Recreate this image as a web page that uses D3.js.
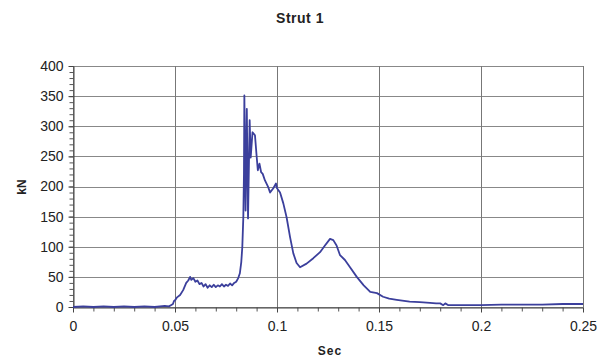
<!DOCTYPE html>
<html>
<head>
<meta charset="utf-8">
<script src="https://cdn.jsdelivr.net/npm/d3@7"></script>
<style>
body { margin: 0; background: #fff; }
text { font-family: "Liberation Sans", Arial, sans-serif; }
</style>
</head>
<body>
<div id="chart"></div>
<script>
// data: time (s) and force (kN)
var times = [0, 0.005, 0.01, 0.015, 0.02, 0.025, 0.03, 0.035, 0.04, 0.045, 0.047, 0.048,
  0.049, 0.0495, 0.05, 0.051, 0.0525, 0.054, 0.0555, 0.0565, 0.0574, 0.058, 0.059, 0.060,
  0.061, 0.062, 0.063, 0.064, 0.065, 0.066, 0.067, 0.068, 0.069, 0.070, 0.071, 0.072,
  0.073, 0.074, 0.075, 0.076, 0.077, 0.078, 0.079, 0.080, 0.081, 0.0818, 0.0825, 0.083,
  0.0835, 0.0838, 0.0840, 0.0846, 0.0852, 0.0858, 0.0866, 0.0871, 0.0880, 0.0892, 0.0900,
  0.0906, 0.0914, 0.0922, 0.093, 0.0941, 0.0957, 0.0966, 0.0982, 0.0995, 0.1, 0.1015,
  0.1031, 0.1047, 0.1064, 0.108, 0.1096, 0.1113, 0.1145, 0.1178, 0.1211, 0.1235, 0.126,
  0.1276, 0.1292, 0.1309, 0.1333, 0.1358, 0.1391, 0.1425, 0.1457, 0.149, 0.152, 0.155,
  0.1587, 0.165, 0.170, 0.175, 0.178, 0.180, 0.1815, 0.1825, 0.184, 0.19, 0.2, 0.21,
  0.22, 0.23, 0.24, 0.25];
var force = [0, 1, 0, 1, 0, 1, 0, 1, 0, 2, 1, 3,
  5, 10, 11, 16, 20, 28, 40, 44, 50, 45, 48, 42,
  44, 38, 40, 34, 38, 32, 36, 33, 37, 33, 36, 34,
  38, 34, 37, 35, 39, 36, 40, 42, 48, 56, 75, 100,
  150, 220, 351, 160, 329, 147, 310, 248, 290, 285, 251,
  227, 238, 224, 221, 210, 199, 190, 197, 205, 197, 190,
  172, 149, 116, 89, 73, 66, 72, 81, 91, 102, 113,
  111, 102, 86, 78, 66, 50, 36, 25, 23, 17, 14,
  12, 9, 8, 7, 6, 6, 3, 6, 3, 3, 3, 4,
  4, 4, 5, 5];
var xTicks = [0, 0.05, 0.1, 0.15, 0.2, 0.25];
var yTicks = [0, 50, 100, 150, 200, 250, 300, 350, 400];

var data = times.map(function(t, i) { return {t: t, v: force[i]}; });

var W = 608, H = 358;
var margin = {top: 66, right: 25, bottom: 51, left: 73},
    width = W - margin.left - margin.right,
    height = H - margin.top - margin.bottom;

var svg = d3.select("#chart").append("svg")
  .attr("width", W).attr("height", H);

var g = svg.append("g")
  .attr("transform", "translate(" + margin.left + "," + margin.top + ")");

var x = d3.scaleLinear().domain([0, 0.25]).range([0, width]);
var y = d3.scaleLinear().domain([0, 400]).range([height, 0]);

// gridlines
g.selectAll(".hgrid").data(yTicks).enter().append("line")
  .attr("x1", 0).attr("x2", width)
  .attr("y1", function(d) { return Math.round(y(d)) + 0.5; })
  .attr("y2", function(d) { return Math.round(y(d)) + 0.5; })
  .attr("stroke", "#888").attr("stroke-width", 1);
g.selectAll(".vgrid").data(xTicks).enter().append("line")
  .attr("y1", 0).attr("y2", height)
  .attr("x1", function(d) { return Math.round(x(d)) + 0.5; })
  .attr("x2", function(d) { return Math.round(x(d)) + 0.5; })
  .attr("stroke", "#777").attr("stroke-width", 1);

// minor ticks
var yMinor = d3.range(0, 401, 10);
var xMinor = d3.range(0, 0.2501, 0.01);
g.append("g").attr("transform", "translate(0.5,0)")
  .call(d3.axisLeft(y).tickValues(yMinor).tickSize(4).tickFormat(""))
  .call(function(a) { a.select(".domain").remove(); a.selectAll("line").attr("stroke", "#555"); });
g.append("g").attr("transform", "translate(0," + (height + 0.5) + ")")
  .call(d3.axisBottom(x).tickValues(xMinor).tickSize(4).tickFormat(""))
  .call(function(a) { a.select(".domain").remove(); a.selectAll("line").attr("stroke", "#555"); });

// main axes
var yAxis = g.append("g").attr("transform", "translate(0.5,0)")
  .call(d3.axisLeft(y).tickValues(yTicks).tickSize(5).tickSizeOuter(0).tickPadding(5));
var xAxis = g.append("g").attr("transform", "translate(0," + (height + 0.5) + ")")
  .call(d3.axisBottom(x).tickValues(xTicks).tickSize(5).tickSizeOuter(0).tickPadding(9)
    .tickFormat(function(d) { return String(+d.toFixed(2)); }));
[xAxis, yAxis].forEach(function(a) {
  a.select(".domain").attr("stroke", "#444");
  a.selectAll("line").attr("stroke", "#444");
  a.selectAll("text").attr("font-size", 14).attr("fill", "#222")
    .attr("font-family", "Liberation Sans, Arial, sans-serif");
});

// the force curve
g.append("path")
  .datum(data)
  .attr("fill", "none")
  .attr("stroke", "#3b3f9c")
  .attr("stroke-width", 1.8)
  .attr("stroke-linejoin", "round")
  .attr("d", d3.line()
    .x(function(d) { return x(d.t); })
    .y(function(d) { return y(d.v); }));

// title and axis labels
svg.append("text")
  .attr("x", 300).attr("y", 23)
  .attr("text-anchor", "middle")
  .attr("font-size", 14).attr("font-weight", "bold")
  .attr("letter-spacing", 0.5)
  .attr("fill", "#222")
  .text("Strut 1");

svg.append("text")
  .attr("transform", "translate(26,187) rotate(-90)")
  .attr("text-anchor", "middle")
  .attr("font-size", 12).attr("font-weight", "bold")
  .attr("fill", "#222")
  .text("kN");

svg.append("text")
  .attr("x", 330).attr("y", 355)
  .attr("text-anchor", "middle")
  .attr("font-size", 12).attr("font-weight", "bold")
  .attr("letter-spacing", 1)
  .attr("fill", "#222")
  .text("Sec");
</script>
</body>
</html>
